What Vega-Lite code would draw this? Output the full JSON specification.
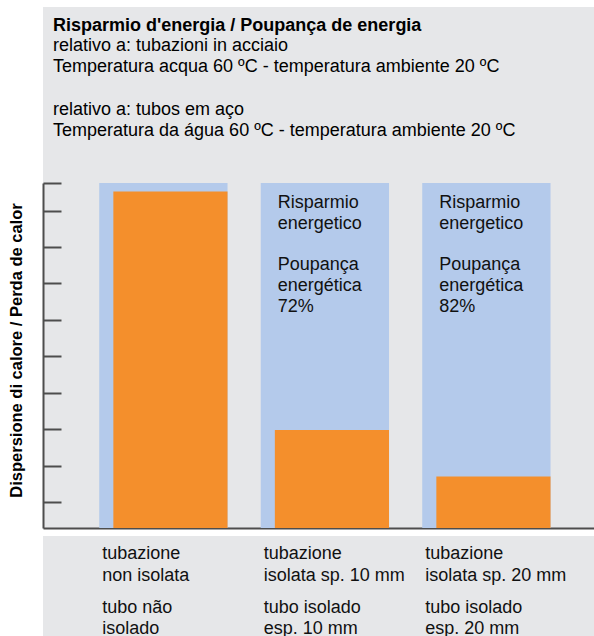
{
  "$schema": "https://vega.github.io/schema/vega-lite/v6.json",
  "background": "#ffffff",
  "padding": {"left": 8, "top": 7, "right": 0, "bottom": 0},
  "config": {
    "font": "Liberation Sans",
    "view": {"fill": "#e6e7e9", "stroke": null},
    "text": {"lineBreak": "\n"}
  },
  "bounds": "flush",
  "spacing": 8,
  "datasets": {
    "bars": [
      {"pipe": "non isolata", "loss": 97.5, "ref": 100},
      {"pipe": "isolata 10 mm", "loss": 28.4, "ref": 100, "note": "Risparmio\nenergetico\n\u200b\nPoupança\nenergética\n72%"},
      {"pipe": "isolata 20 mm", "loss": 14.9, "ref": 100, "note": "Risparmio\nenergetico\n\u200b\nPoupança\nenergética\n82%"}
    ],
    "labels": [
      {"pipe": "non isolata", "lang": "it", "label": "tubazione\nnon isolata"},
      {"pipe": "non isolata", "lang": "pt", "label": "tubo não\nisolado"},
      {"pipe": "isolata 10 mm", "lang": "it", "label": "tubazione\nisolata sp. 10 mm"},
      {"pipe": "isolata 10 mm", "lang": "pt", "label": "tubo isolado\nesp. 10 mm"},
      {"pipe": "isolata 20 mm", "lang": "it", "label": "tubazione\nisolata sp. 20 mm"},
      {"pipe": "isolata 20 mm", "lang": "pt", "label": "tubo isolado\nesp. 20 mm"}
    ]
  },
  "vconcat": [
    {
      "width": 551,
      "height": 521,
      "title": {
        "text": "Risparmio d'energia / Poupança de energia",
        "subtitle": [
          "relativo a: tubazioni in acciaio",
          "Temperatura acqua 60 ºC - temperatura ambiente 20 ºC",
          "\u200b",
          "relativo a: tubos em aço",
          "Temperatura da água 60 ºC - temperatura ambiente 20 ºC"
        ],
        "anchor": "start",
        "frame": "group",
        "orient": "top",
        "offset": -133,
        "dx": 10,
        "font": "Liberation Sans",
        "fontSize": 18,
        "fontWeight": "bold",
        "color": "#000000",
        "subtitleFont": "Liberation Sans",
        "subtitleFontSize": 18,
        "subtitleFontWeight": "normal",
        "subtitleColor": "#000000",
        "subtitleLineHeight": 21.3,
        "subtitlePadding": 2
      },
      "data": {"name": "bars"},
      "encoding": {
        "x": {
          "field": "pipe",
          "type": "nominal",
          "sort": null,
          "scale": {"type": "band", "paddingInner": 0.2056, "paddingOuter": 0.3087, "align": 0.564},
          "axis": {"title": null, "labels": false, "ticks": false, "domainColor": "#4d4d4d", "domainWidth": 2}
        }
      },
      "layer": [
        {
          "mark": {"type": "bar", "color": "#b4caeb"},
          "encoding": {
            "y": {
              "field": "ref",
              "type": "quantitative",
              "scale": {"domain": [0, 151], "nice": false, "zero": true},
              "axis": {
                "title": "Dispersione di calore / Perda de calor",
                "values": [7.6, 18.1, 28.7, 39.2, 49.9, 60.3, 70.9, 81.4, 92.0, 100],
                "labels": false,
                "grid": false,
                "tickSize": -18,
                "tickWidth": 2,
                "tickColor": "#4d4d4d",
                "domainColor": "#4d4d4d",
                "domainWidth": 2,
                "domainDash": [345, 1000],
                "titleFont": "Liberation Sans",
                "titleFontSize": 16.5,
                "titleFontWeight": "bold",
                "titleColor": "#000000",
                "titlePadding": 18,
                "titleY": 343,
                "titleAlign": "center"
              }
            }
          }
        },
        {
          "mark": {"type": "bar", "color": "#f48f2c"},
          "encoding": {
            "x": {"field": "pipe", "type": "nominal", "sort": null, "bandPosition": 0.11},
            "x2": {"field": "pipe", "bandPosition": 1},
            "y": {"field": "loss", "type": "quantitative"},
            "y2": {"datum": 0}
          }
        },
        {
          "transform": [{"filter": "datum.note"}],
          "mark": {"type": "text", "align": "left", "baseline": "alphabetic", "fontSize": 18, "lineHeight": 20.8, "dx": 17, "dy": 25, "color": "#111111"},
          "encoding": {
            "x": {"field": "pipe", "type": "nominal", "sort": null, "bandPosition": 0},
            "y": {"datum": 100},
            "text": {"field": "note"}
          }
        }
      ]
    },
    {
      "width": 551,
      "height": 100,
      "data": {"name": "labels"},
      "mark": {"type": "text", "align": "left", "baseline": "alphabetic", "fontSize": 18, "lineHeight": 21.5, "dx": 3, "color": "#111111"},
      "encoding": {
        "x": {
          "field": "pipe",
          "type": "nominal",
          "sort": null,
          "bandPosition": 0,
          "scale": {"type": "band", "paddingInner": 0.2056, "paddingOuter": 0.3087, "align": 0.564},
          "axis": null
        },
        "y": {
          "field": "lang",
          "type": "ordinal",
          "scale": {"type": "point", "padding": 0.426, "domain": ["it", "pt"]},
          "axis": null
        },
        "text": {"field": "label"}
      }
    }
  ]
}
